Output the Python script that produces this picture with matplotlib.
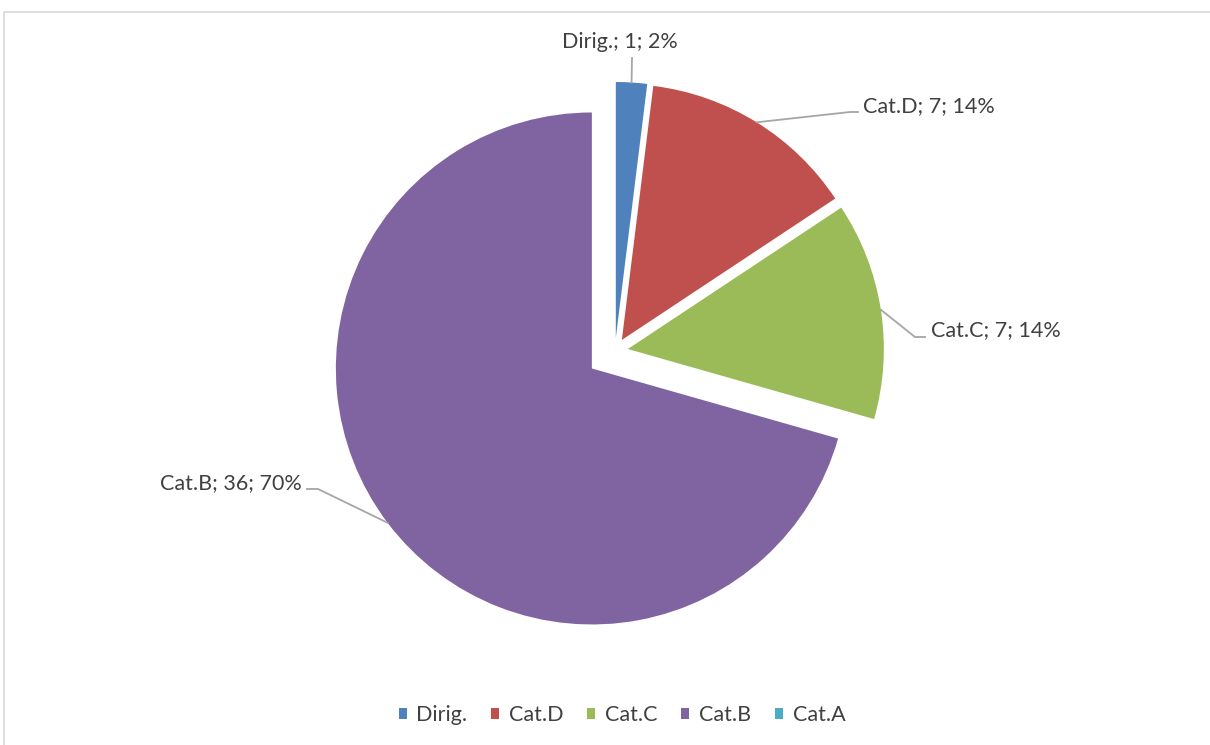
import numpy as np
import matplotlib
matplotlib.use("Agg")
import matplotlib.pyplot as plt
from matplotlib.patches import Rectangle

categories = ["Dirig.", "Cat.D", "Cat.C", "Cat.B", "Cat.A"]
values = [1, 7, 7, 36, 0]
percents = [2, 14, 14, 70, 0]
colors = ["#4F81BD", "#C0504D", "#9BBB59", "#8064A2", "#4BACC6"]

W, H = 1210, 745
plt.rcParams['font.family'] = ['Lato', 'DejaVu Sans']
TXT = "#404040"
FS = 15.5

fig = plt.figure(figsize=(W / 100, H / 100), dpi=100)
ax = fig.add_axes([0, 0, 1, 1])

# chart border (light gray)
ax.add_patch(Rectangle((4, -10), W + 20, H - 12 + 10, fill=False,
                       edgecolor="#D9D9D9", linewidth=1.2))

cx, cy = 615, H - 351
R = 256
explode_px = [13, 13, 13, 29, 0]

nz = [i for i, v in enumerate(values) if v > 0]
ax.pie([values[i] for i in nz], colors=[colors[i] for i in nz],
       explode=[explode_px[i] for i in nz], center=(cx, cy), radius=R,
       startangle=90, counterclock=False, frame=True)
ax.set_xlim(0, W)
ax.set_ylim(0, H)
ax.set_aspect('equal')
ax.axis('off')

# labels and leader lines
label_pos = {0: (620, 42, 'center'), 1: (863, 106, 'left'),
             2: (931, 330, 'left'), 3: (302, 483, 'right')}
knee = {0: None, 1: (850, 112), 2: (915, 337), 3: (318, 489)}
elbow = {0: (632, 58), 1: (858, 112), 2: (925, 337), 3: (307, 489)}
total = sum(values)
cum = 0
for i in nz:
    v = values[i]
    mid = (cum + v / 2) / total * 360.0
    cum += v
    th = np.deg2rad(mid)
    rr = R + explode_px[i]
    sx = cx + rr * np.sin(th)
    sy = cy + rr * np.cos(th)
    lx, ly, ha = label_pos[i]
    txt = f"{categories[i]}; {v}; {percents[i]}%"
    ax.text(lx, H - ly, txt, ha=ha, va='center', fontsize=FS, color=TXT)
    pts = [(sx, sy)]
    if knee[i] is not None:
        pts.append((knee[i][0], H - knee[i][1]))
    pts.append((elbow[i][0], H - elbow[i][1]))
    xs, ys = zip(*pts)
    ax.plot(xs, ys, color="#A6A6A6", linewidth=1.3)

handles = [Rectangle((0, 0), 1, 1, facecolor=c, edgecolor='none') for c in colors]
leg = fig.legend(handles, categories, loc='center', bbox_to_anchor=(622 / W, 1 - 715 / H),
                 ncol=5, frameon=False, fontsize=FS, handlelength=0.38, handleheight=0.38,
                 handletextpad=0.45, columnspacing=1.1)
for t in leg.get_texts():
    t.set_color(TXT)

fig.savefig("out.png", dpi=100, facecolor='white')
